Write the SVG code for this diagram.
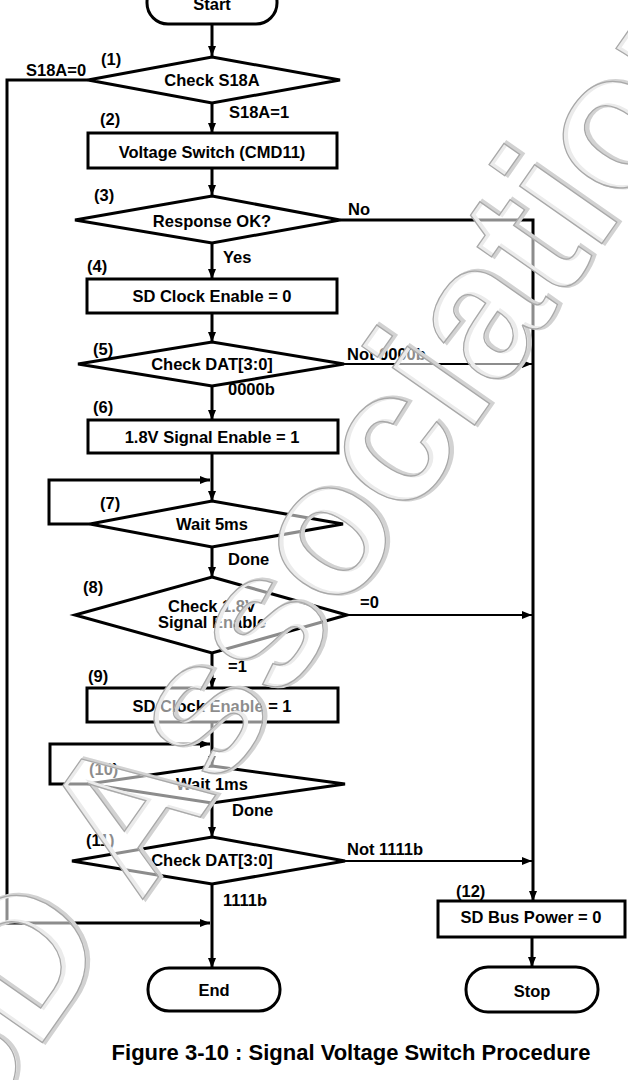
<svg xmlns="http://www.w3.org/2000/svg" width="628" height="1080" viewBox="0 0 628 1080">
<defs>
<marker id="ah" markerUnits="userSpaceOnUse" markerWidth="11" markerHeight="9" refX="10" refY="4" orient="auto">
<path d="M0,0 L10,4 L0,8 z" fill="#000"/>
</marker>
<style>
.s{fill:#fff;stroke:#000;stroke-width:3}
.t{font-family:"Liberation Sans",Arial,sans-serif;font-weight:bold;font-size:16.5px;fill:#000}
.c{text-anchor:middle}
.l{fill:none;stroke:#000;stroke-width:3}
.l2{fill:none;stroke:#000;stroke-width:2}
.wm{font-family:"Liberation Sans",Arial,sans-serif;font-weight:bold;font-size:190px;text-anchor:middle}
</style>
</defs>
<rect width="628" height="1080" fill="#fff"/>
<g id="connectors">
<path class="l" d="M212,24 V56" marker-end="url(#ah)"/>
<path class="l" d="M212,103 V133" marker-end="url(#ah)"/>
<path class="l" d="M212,168 V195" marker-end="url(#ah)"/>
<path class="l" d="M212,243 V279" marker-end="url(#ah)"/>
<path class="l" d="M212,313 V342" marker-end="url(#ah)"/>
<path class="l" d="M212,386 V420" marker-end="url(#ah)"/>
<path class="l" d="M212,453 V501" marker-end="url(#ah)"/>
<path class="l" d="M90,524 H49 V480 H210" marker-end="url(#ah)"/>
<path class="l" d="M212,547 V577" marker-end="url(#ah)"/>
<path class="l" d="M212,653 V688" marker-end="url(#ah)"/>
<path class="l" d="M212,722 V766" marker-end="url(#ah)"/>
<path class="l" d="M88,784 H50 V744 H210" marker-end="url(#ah)"/>
<path class="l" d="M212,803 V837" marker-end="url(#ah)"/>
<path class="l" d="M212,884 V968" marker-end="url(#ah)"/>
<path class="l" d="M88,80 H7 V923 H210" marker-end="url(#ah)"/>
<path class="l" d="M340,220 H533 V901" marker-end="url(#ah)"/>
<path class="l2" d="M344,364 H532" marker-end="url(#ah)"/>
<path class="l2" d="M347,615 H532" marker-end="url(#ah)"/>
<path class="l2" d="M345,861 H532" marker-end="url(#ah)"/>
<path class="l" d="M532,937 V967" marker-end="url(#ah)"/>
</g>
<g id="n0"><rect class="s" x="147" y="-19" width="130" height="43" rx="21"/><text class="t c" x="212" y="10">Start</text></g>
<g id="n1"><polygon class="s" points="212,57 340,80 212,103 88,80"/><text class="t c" x="212" y="86">Check S18A</text><text class="t" x="101" y="65">(1)</text></g>
<g id="n2"><rect class="s" x="88" y="133" width="249" height="35"/><text class="t c" x="212" y="158">Voltage Switch (CMD11)</text><text class="t" x="100" y="125">(2)</text></g>
<g id="n3"><polygon class="s" points="212,196 340,220 212,243 75,220"/><text class="t c" x="212" y="227">Response OK?</text><text class="t" x="94" y="201">(3)</text></g>
<g id="n4"><rect class="s" x="87" y="279" width="250" height="34"/><text class="t c" x="212" y="302">SD Clock Enable = 0</text><text class="t" x="87" y="272">(4)</text></g>
<g id="n5"><polygon class="s" points="212,342 344,364 212,386 78,364"/><text class="t c" x="212" y="370">Check DAT[3:0]</text><text class="t" x="93" y="355">(5)</text></g>
<g id="n6"><rect class="s" x="88" y="420" width="250" height="33"/><text class="t c" x="212" y="443">1.8V Signal Enable = 1</text><text class="t" x="93" y="413">(6)</text></g>
<g id="n7"><polygon class="s" points="212,501 343,524 212,547 90,524"/><text class="t c" x="212" y="530">Wait 5ms</text><text class="t" x="100" y="509">(7)</text></g>
<g id="n8"><polygon class="s" points="212,577 347,615 212,653 75,615"/><text class="t c" x="212" y="612">Check 1.8V</text><text class="t c" x="212" y="628">Signal Enable</text><text class="t" x="83" y="593">(8)</text></g>
<g id="n9"><rect class="s" x="87" y="688" width="251" height="34"/><text class="t c" x="212" y="712">SD Clock Enable = 1</text><text class="t" x="88" y="682">(9)</text></g>
<g id="n10"><polygon class="s" points="212,766 345,784 212,803 88,784"/><text class="t c" x="212" y="790">Wait 1ms</text><text class="t" x="89" y="775">(10)</text></g>
<g id="n11"><polygon class="s" points="212,837 345,861 212,884 72,861"/><text class="t c" x="212" y="866">Check DAT[3:0]</text><text class="t" x="86" y="846">(11)</text></g>
<g id="n12"><rect class="s" x="438" y="901" width="187" height="36"/><text class="t c" x="531" y="923">SD Bus Power = 0</text><text class="t" x="456" y="897">(12)</text></g>
<g id="nEnd"><rect class="s" x="148" y="968" width="132" height="43" rx="21"/><text class="t c" x="214" y="996">End</text></g>
<g id="nStop"><rect class="s" x="466" y="967" width="132" height="45" rx="22"/><text class="t c" x="532" y="997">Stop</text></g>
<g id="labels">
<text class="t" x="26" y="76">S18A=0</text>
<text class="t" x="229" y="118">S18A=1</text>
<text class="t" x="348" y="215">No</text>
<text class="t" x="223" y="263">Yes</text>
<text class="t" x="347" y="360">Not 0000b</text>
<text class="t" x="228" y="395">0000b</text>
<text class="t" x="228" y="565">Done</text>
<text class="t" x="360" y="608">=0</text>
<text class="t" x="228" y="672">=1</text>
<text class="t" x="232" y="816">Done</text>
<text class="t" x="347" y="855">Not 1111b</text>
<text class="t" x="223" y="906">1111b</text>
</g>
<g id="watermark" transform="rotate(-55 360 589)">
<text class="wm" x="362" y="591" fill="none" stroke="#d2d2d2" stroke-width="4">SD Association</text>
<text class="wm" x="360" y="589" fill="#fff" fill-opacity="0.55" stroke="#a8a8a8" stroke-width="1.3">SD Association</text>
</g>
<text x="351" y="1060" font-family="'Liberation Sans',Arial,sans-serif" font-weight="bold" font-size="22" text-anchor="middle">Figure 3-10 : Signal Voltage Switch Procedure</text>
</svg>
